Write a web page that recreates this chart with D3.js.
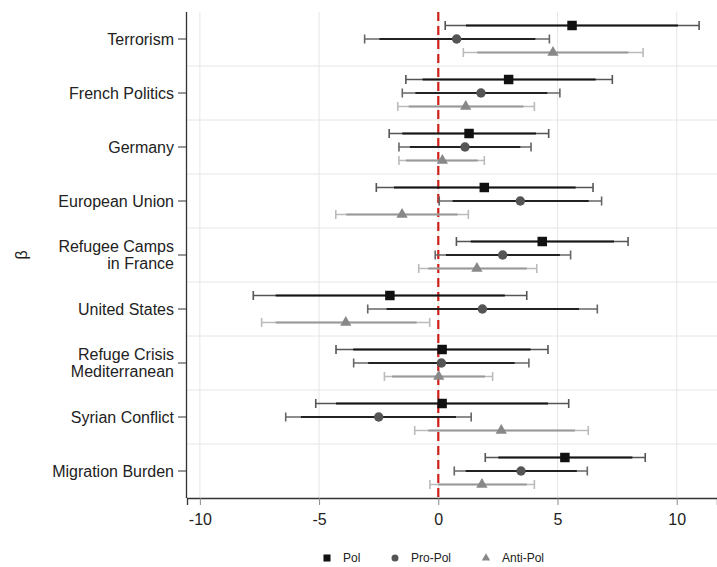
<!DOCTYPE html>
<html><head><meta charset="utf-8">
<script src="https://cdn.jsdelivr.net/npm/d3@7"></script>
<style>body{margin:0;background:#fff;font-family:"Liberation Sans",Arial,sans-serif;}</style>
</head><body><svg id="c" width="717" height="567"></svg>
<script>
const categories = ["Terrorism","French Politics","Germany","European Union","Refugee Camps\nin France","United States","Refuge Crisis\nMediterranean","Syrian Conflict","Migration Burden"];
const seriesNames = ["Pol","Pro-Pol","Anti-Pol"];
const xTicks = [-10,-5,0,5,10];
// [estimate, lo95, hi95, lo90, hi90] per category
const polValues = [
 [5.61,0.29,10.94,1.16,10.05],[2.95,-1.36,7.30,-0.66,6.60],[1.29,-2.06,4.63,-1.51,4.10],
 [1.93,-2.60,6.49,-1.86,5.76],[4.36,0.76,7.96,1.36,7.37],[-2.03,-7.76,3.71,-6.82,2.79],
 [0.16,-4.29,4.60,-3.57,3.87],[0.16,-5.14,5.47,-4.29,4.60],[5.31,1.97,8.68,2.52,8.14]];
const proPolValues = [
 [0.77,-3.09,4.66,-2.47,4.07],[1.79,-1.51,5.10,-0.96,4.57],[1.12,-1.65,3.89,-1.19,3.44],
 [3.44,0.04,6.85,0.60,6.31],[2.70,-0.13,5.55,0.32,5.10],[1.85,-2.96,6.67,-2.17,5.90],
 [0.13,-3.55,3.80,-2.94,3.20],[-2.50,-6.40,1.38,-5.76,0.74],[3.47,0.67,6.25,1.15,5.81]];
const antiPolValues = [
 [4.81,1.05,8.59,1.64,7.97],[1.15,-1.70,4.03,-1.24,3.57],[0.17,-1.65,1.93,-1.36,1.65],
 [-1.52,-4.30,1.26,-3.86,0.81],[1.62,-0.82,4.13,-0.42,3.71],[-3.88,-7.41,-0.36,-6.82,-0.91],
 [0.02,-2.26,2.28,-1.94,1.96],[2.64,-0.99,6.29,-0.42,5.73],[1.83,-0.35,4.03,0.00,3.71]];

const series = [
 {name:"Pol", vals:polValues, marker:d3.symbolSquare, mcol:"#111", inner:"#151515", outer:"#555", size:90},
 {name:"Pro-Pol", vals:proPolValues, marker:d3.symbolCircle, mcol:"#555", inner:"#222", outer:"#666", size:70},
 {name:"Anti-Pol", vals:antiPolValues, marker:d3.symbolTriangle, mcol:"#888", inner:"#999", outer:"#bbb", size:55}
];

const FONT = "Liberation Sans, Arial, sans-serif";
const svg = d3.select("#c");
const L=187, R=717, T=12, B=498;
const x = d3.scaleLinear().domain([-10.54, 11.69]).range([L, R]);
const y = d3.scaleBand().domain(categories).range([T, B]);
const off = d3.scalePoint().domain(seriesNames).range([-13.5, 13.5]);

// grid
svg.append("g").selectAll("line").data(xTicks).join("line")
 .attr("x1",d=>x(d)).attr("x2",d=>x(d)).attr("y1",T).attr("y2",B)
 .attr("stroke","#e6e6e6").attr("stroke-width",1);
svg.append("g").selectAll("line").data(categories.slice(1)).join("line")
 .attr("x1",L).attr("x2",R).attr("y1",d=>y(d)).attr("y2",d=>y(d))
 .attr("stroke","#e6e6e6").attr("stroke-width",1);

// zero line
svg.append("line").attr("x1",x(0)).attr("x2",x(0)).attr("y1",T).attr("y2",B)
 .attr("stroke","#d0201a").attr("stroke-width",2.2).attr("stroke-dasharray","9,5");

// error bars
series.forEach(s=>{
  const g = svg.append("g");
  s.vals.forEach((v,i)=>{
    const cy = y(categories[i]) + y.bandwidth()/2 + off(s.name);
    g.append("line").attr("x1",x(v[1])).attr("x2",x(v[2])).attr("y1",cy).attr("y2",cy)
      .attr("stroke",s.outer).attr("stroke-width",1.6);
    g.append("line").attr("x1",x(v[3])).attr("x2",x(v[4])).attr("y1",cy).attr("y2",cy)
      .attr("stroke",s.inner).attr("stroke-width",2.2);
    [v[1],v[2]].forEach(e=>{
      g.append("line").attr("x1",x(e)).attr("x2",x(e)).attr("y1",cy-4.5).attr("y2",cy+4.5)
        .attr("stroke",s.outer).attr("stroke-width",1.6);
    });
    g.append("path").attr("d",d3.symbol().type(s.marker).size(s.size)())
      .attr("transform",`translate(${x(v[0])},${cy})`).attr("fill",s.mcol);
  });
});

// axes
const xa = svg.append("g").attr("transform",`translate(0,${B})`)
 .call(d3.axisBottom(x).tickValues(xTicks).tickSize(7).tickPadding(9).tickFormat(d=>String(d)));
xa.select(".domain").attr("stroke","#333").attr("stroke-width",1.3);
xa.selectAll(".tick line").attr("stroke","#888");
xa.selectAll("text").attr("font-size",16).attr("fill","#222").attr("font-family",FONT);

const ya = svg.append("g").attr("transform",`translate(${L},0)`)
 .call(d3.axisLeft(y).tickSize(9).tickPadding(4).tickFormat(""));
ya.select(".domain").attr("stroke","#333").attr("stroke-width",1.3).attr("d",`M-0.5,${T}V${B}`);
ya.selectAll(".tick line").attr("stroke","#333");
ya.selectAll(".tick").each(function(d){
  const lines = d.split("\n");
  const t = d3.select(this).append("text").attr("x",-13).attr("text-anchor","end")
    .attr("font-size",16).attr("fill","#222").attr("font-family",FONT);
  const lh = 16.5;
  lines.forEach((ln,k)=>{
    t.append("tspan").attr("x",-13).attr("y",(k-(lines.length-1)/2)*lh).attr("dy","0.35em").text(ln);
  });
});

svg.append("text").attr("transform","translate(27,255) rotate(-90)").attr("text-anchor","middle")
 .attr("font-size",16).attr("fill","#222").attr("font-family",FONT).text("β");

// legend
const legX = [327, 395, 486];
series.forEach((s,i)=>{
  svg.append("path").attr("d",d3.symbol().type(s.marker).size(s.size*0.55)())
    .attr("transform",`translate(${legX[i]},558)`).attr("fill",s.mcol);
  svg.append("text").attr("x",legX[i]+16).attr("y",558).attr("dy","0.35em")
    .attr("font-size",12).attr("fill","#222").attr("font-family",FONT).text(s.name);
});
</script></body></html>
